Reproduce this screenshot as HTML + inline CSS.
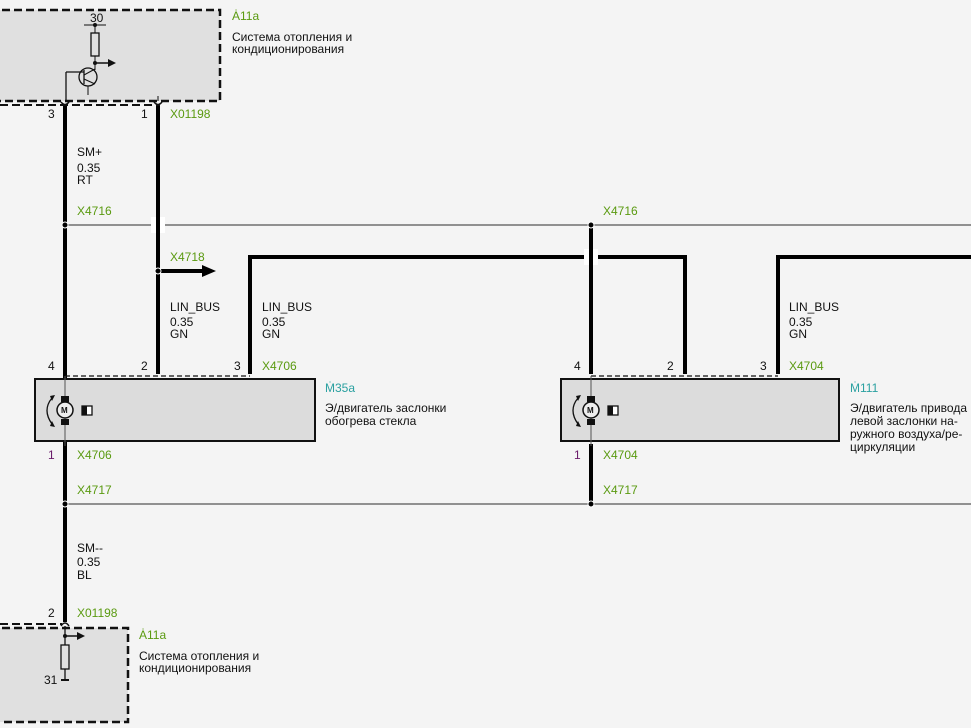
<!DOCTYPE html>
<html><head><meta charset="utf-8"><style>
html,body{margin:0;padding:0;background:#f4f4f4;}
svg{display:block;}
text{font-family:"Liberation Sans",Arial,sans-serif;font-size:12px;fill:#111;}
.g{fill:#5a9a10;}
.t{fill:#2aa0a0;}
.p{fill:#6a1a6a;}
</style></head><body>
<svg width="971" height="728" viewBox="0 0 971 728" xmlns="http://www.w3.org/2000/svg">
<rect width="971" height="728" fill="#f4f4f4"/>
<!-- top box -->
<rect x="-10" y="10" width="230" height="91" fill="#e0e0e0"/>
<path d="M-10 10 H220 V101 H-10" fill="none" stroke="#111" stroke-width="2.5" stroke-dasharray="8,4"/>
<line x1="0" y1="105" x2="160" y2="105" stroke="#111" stroke-width="2" stroke-dasharray="8,4"/>
<text x="90" y="22">30</text>
<line x1="84" y1="25" x2="106" y2="25" stroke="#111"/>
<circle cx="95" cy="25" r="2" fill="#111"/>
<line x1="95" y1="25" x2="95" y2="33" stroke="#111"/>
<rect x="91" y="33" width="8" height="23" fill="none" stroke="#111" stroke-width="1.3"/>
<line x1="95" y1="56" x2="95" y2="70" stroke="#111"/>
<circle cx="95" cy="63" r="2" fill="#111"/>
<line x1="95" y1="63" x2="110" y2="63" stroke="#111" stroke-width="1.5"/>
<polygon points="108,59 116,63 108,67" fill="#111"/>
<circle cx="88" cy="77" r="9" fill="none" stroke="#111" stroke-width="1.3"/>
<line x1="66" y1="72" x2="84" y2="72" stroke="#111" stroke-width="1.3"/>
<line x1="66" y1="72" x2="66" y2="101" stroke="#111" stroke-width="1.3"/>
<line x1="84" y1="70" x2="84" y2="84" stroke="#111" stroke-width="1.3"/>
<line x1="84" y1="75" x2="95" y2="69" stroke="#111"/>
<line x1="84" y1="79" x2="95" y2="84" stroke="#111"/>
<line x1="88" y1="86" x2="88" y2="95" stroke="#111"/>
<line x1="158" y1="101" x2="158" y2="96" stroke="#111"/>
<text x="232" y="20" class="g">Ȧ11a</text>
<text x="232" y="41">Система отопления и</text>
<text x="232" y="53">кондиционирования</text>

<!-- pins top -->
<text x="48" y="118">3</text>
<text x="141" y="118">1</text>
<text x="170" y="118" class="g">X01198</text>
<path d="M61 102 q4 5 8 0" fill="none" stroke="#111" stroke-width="1.5"/>
<path d="M154 102 q4 5 8 0" fill="none" stroke="#111" stroke-width="1.5"/>

<!-- thin lines -->
<line x1="65" y1="225" x2="971" y2="225" stroke="#555" stroke-width="1.3"/>
<line x1="65" y1="504" x2="971" y2="504" stroke="#555" stroke-width="1.3"/>
<rect x="151" y="217" width="14" height="16" fill="#fff"/>

<!-- thick wires -->
<g stroke="#000" stroke-width="4" fill="none">
<line x1="65" y1="106" x2="65" y2="622"/>
<line x1="158" y1="106" x2="158" y2="374"/>
<path d="M250 374 V257 H685 V374"/>
<path d="M778 374 V257 H971"/>
</g>
<rect x="584" y="249" width="14" height="16" fill="#fff"/>
<line x1="591" y1="225" x2="591" y2="374" stroke="#000" stroke-width="4"/>
<line x1="591" y1="444" x2="591" y2="504" stroke="#000" stroke-width="4"/>
<line x1="158" y1="271" x2="203" y2="271" stroke="#000" stroke-width="4"/>
<polygon points="202,265 216,271 202,277" fill="#000"/>
<g fill="#000" stroke="#fff" stroke-width="1">
<circle cx="65" cy="225" r="3"/><circle cx="591" cy="225" r="3"/>
<circle cx="65" cy="504" r="3"/><circle cx="591" cy="504" r="3"/>
<circle cx="158" cy="271" r="3"/>
</g>

<!-- labels wires -->
<text x="77" y="156">SM+</text>
<text x="77" y="172">0.35</text>
<text x="77" y="184">RT</text>
<text x="77" y="215" class="g">X4716</text>
<text x="603" y="215" class="g">X4716</text>
<text x="170" y="261" class="g">X4718</text>
<text x="170" y="311">LIN_BUS</text>
<text x="170" y="326">0.35</text>
<text x="170" y="338">GN</text>
<text x="262" y="311">LIN_BUS</text>
<text x="262" y="326">0.35</text>
<text x="262" y="338">GN</text>
<text x="789" y="311">LIN_BUS</text>
<text x="789" y="326">0.35</text>
<text x="789" y="338">GN</text>

<!-- M35a -->
<text x="48" y="370">4</text><text x="141" y="370">2</text><text x="234" y="370">3</text>
<text x="262" y="370" class="g">X4706</text>
<line x1="65" y1="376" x2="250" y2="376" stroke="#111" stroke-width="1.3" stroke-dasharray="5,3"/>
<rect x="35" y="379" width="280" height="62" fill="#dcdcdc" stroke="#111" stroke-width="2"/>
<g id="mot">
<line x1="65" y1="376" x2="65" y2="446" stroke="#555" stroke-width="1"/>
<rect x="61" y="396" width="8" height="6" fill="#111"/>
<rect x="61" y="419" width="8" height="6" fill="#111"/>
<circle cx="65" cy="410" r="8" fill="#eee" stroke="#111" stroke-width="1.5"/>
<text x="61" y="413" style="font-size:8px;font-weight:bold">M</text>
<rect x="82" y="406" width="10" height="9" fill="#fff" stroke="#111" stroke-width="1.3"/>
<rect x="82" y="406" width="5" height="9" fill="#111"/>
<path d="M52 398 Q42 410 52 424" fill="none" stroke="#111" stroke-width="1.3"/>
<polygon points="50,396 55,395 52,401" fill="#111"/>
<polygon points="50,426 55,427 52,421" fill="#111"/>
</g>
<text x="48" y="459" class="p">1</text>
<text x="77" y="459" class="g">X4706</text>
<text x="77" y="494" class="g">X4717</text>
<text x="325" y="392" class="t">Ṁ35a</text>
<text x="325" y="412">Э/двигатель заслонки</text>
<text x="325" y="425">обогрева стекла</text>

<!-- M111 -->
<text x="574" y="370">4</text><text x="667" y="370">2</text><text x="760" y="370">3</text>
<text x="789" y="370" class="g">X4704</text>
<line x1="591" y1="376" x2="778" y2="376" stroke="#111" stroke-width="1.3" stroke-dasharray="5,3"/>
<rect x="561" y="379" width="278" height="62" fill="#dcdcdc" stroke="#111" stroke-width="2"/>
<use href="#mot" transform="translate(526,0)"/>
<text x="574" y="459" class="p">1</text>
<text x="603" y="459" class="g">X4704</text>
<text x="603" y="494" class="g">X4717</text>
<text x="850" y="392" class="t">Ṁ111</text>
<text x="850" y="412">Э/двигатель привода</text>
<text x="850" y="425">левой заслонки на-</text>
<text x="850" y="438">ружного воздуха/ре-</text>
<text x="850" y="451">циркуляции</text>

<!-- bottom -->
<text x="77" y="552">SM--</text>
<text x="77" y="566">0.35</text>
<text x="77" y="579">BL</text>
<text x="48" y="617">2</text>
<text x="77" y="617" class="g">X01198</text>
<rect x="-10" y="628" width="138" height="94" fill="#e0e0e0"/>
<line x1="0" y1="624" x2="62" y2="624" stroke="#111" stroke-width="2" stroke-dasharray="8,4"/>
<path d="M-10 628 H128 V722 H-10" fill="none" stroke="#111" stroke-width="2.5" stroke-dasharray="8,4"/>
<path d="M61 626 q4 -6 8 0" fill="none" stroke="#111" stroke-width="1.5"/>
<line x1="65" y1="626" x2="65" y2="645" stroke="#111" stroke-width="1.3"/>
<circle cx="65" cy="636" r="2" fill="#111"/>
<line x1="65" y1="636" x2="78" y2="636" stroke="#111" stroke-width="1.5"/>
<polygon points="77,632 85,636 77,640" fill="#111"/>
<rect x="61" y="645" width="8" height="24" fill="none" stroke="#111" stroke-width="1.3"/>
<line x1="65" y1="669" x2="65" y2="679" stroke="#111" stroke-width="1.3"/>
<line x1="61" y1="680" x2="69" y2="680" stroke="#111" stroke-width="2"/>
<text x="44" y="684">31</text>
<text x="139" y="639" class="g">Ȧ11a</text>
<text x="139" y="660">Система отопления и</text>
<text x="139" y="672">кондиционирования</text>
</svg>
</body></html>
